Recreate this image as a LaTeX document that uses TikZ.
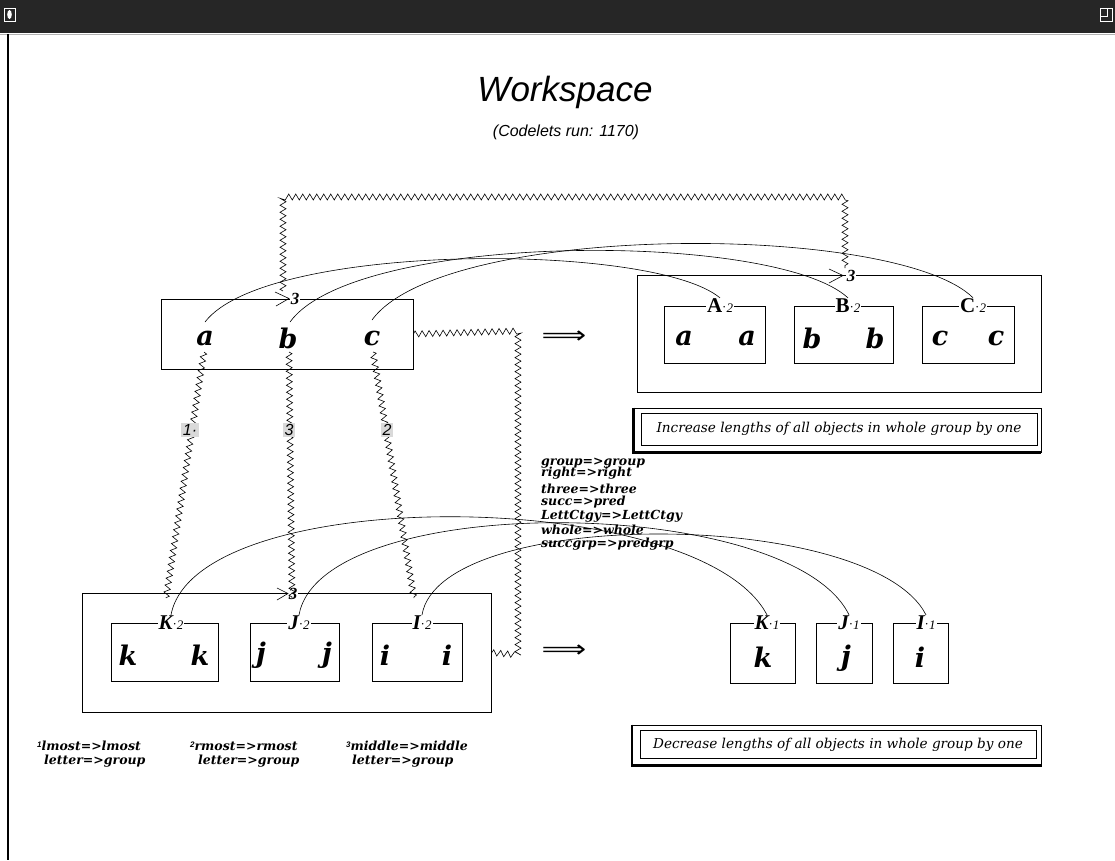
\documentclass[tikz,border=0pt]{standalone}
\usepackage{fontspec}
\usetikzlibrary{decorations.pathmorphing}
\newfontfamily\sansfam{Liberation Sans}
\newfontfamily\dvsans{DejaVu Sans}
\newfontfamily\dvserif{DejaVu Serif}
\newfontfamily\libserif{Liberation Serif}
\definecolor{titlebar}{HTML}{262626}
\definecolor{tagbg}{HTML}{D9D9D9}

\tikzset{
  box/.style={draw, line width=0.8pt, inner sep=0pt},
  lettr/.style={inner sep=0pt, font=\dvserif\bfseries\itshape\fontsize{27}{27}\selectfont},
  grp/.style={fill=white, inner sep=1pt},
  lenlab/.style={fill=white, inner sep=0.5pt, font=\libserif\bfseries\itshape\fontsize{17}{17}\selectfont},
  zz/.style={decorate, decoration={zigzag, segment length=7pt, amplitude=3pt}, line width=0.6pt},
  arcline/.style={line width=0.6pt},
  mapline/.style={anchor=west, inner sep=0pt, font=\dvserif\bfseries\itshape\fontsize{12.5}{12.5}\selectfont},
  tag/.style={fill=tagbg, inner sep=1.5pt, font=\sansfam\itshape\fontsize{16}{16}\selectfont},
  ruletext/.style={inner sep=0pt, font=\dvserif\itshape\fontsize{13.6}{13.6}\selectfont},
  tick/.style={line width=0.6pt},
  imp/.style={inner sep=0pt, font=\dvsans\fontsize{24}{24}\selectfont},
}
% group label: letter, then a centred dot and the length
\newcommand\grouplabel[3]{{\libserif\bfseries\fontsize{21}{21}\selectfont#3#1}{\libserif\fontsize{13}{13}\selectfont\raisebox{1.5pt}{\textperiodcentered}\itshape#2}}

\begin{document}
\begin{tikzpicture}[x=1pt, y=-1pt]
\useasboundingbox (0,0) rectangle (1115,860);
\fill[white] (0,0) rectangle (1115,860);

% window title bar
\fill[titlebar] (0,0) rectangle (1115,33);
\draw[white, line width=0.8pt] (4,8) rectangle (15,21);
\fill[white] (9.5,14.5) ellipse [x radius=2.3, y radius=4.5];
\draw[white, line width=0.8pt] (1100,8) rectangle (1112,21);
\draw[white, line width=0.8pt] (1100,16) -- (1107,16) -- (1107,8);
\draw[gray!60, line width=1pt] (0,34) -- (1115,34);
\draw[black, line width=1.2pt] (8,34) -- (8,860);

% heading
\node[font=\sansfam\itshape\fontsize{35}{35}\selectfont] (title) at (565,92) {Workspace};
\node[font=\sansfam\itshape\fontsize{16}{16}\selectfont] (runs) at (566,132) {(Codelets run: 1170)};

% initial string
\node[box, minimum width=252pt, minimum height=70pt] (init) at (287,334) {};
\node[lettr] (ia) at (205,338) {a};
\node[lettr] (ib) at (288,338) {b};
\node[lettr] (ic) at (372,338) {c};
\node[lenlab] (ilen) at (295,299) {3};
\draw[tick] (275,292) -- (289,298.5) -- (276,306);

% modified string
\node[box, minimum width=404pt, minimum height=117pt] (modf) at (839,333.5) {};
\node[box, minimum width=101pt, minimum height=57pt] (mA) at (714.5,334.5) {};
\node[box, minimum width=99pt, minimum height=57pt] (mB) at (843.5,334.5) {};
\node[box, minimum width=92pt, minimum height=57pt] (mC) at (968,334.5) {};
\node[lettr] at (684,338) {a};
\node[lettr] at (747,338) {a};
\node[lettr] at (812,338) {b};
\node[lettr] at (875,338) {b};
\node[lettr] at (940,338) {c};
\node[lettr] at (996,338) {c};
\node[grp] (lA) at (720,306) {\grouplabel{A}{2}{}};
\node[grp] (lB) at (848,306) {\grouplabel{B}{2}{}};
\node[grp] (lC) at (973,306) {\grouplabel{C}{2}{}};
\node[lenlab] (mlen) at (851,276) {3};
\draw[tick] (829,269) -- (843,275.5) -- (829,283);

% target string
\node[box, minimum width=409pt, minimum height=119pt] (targ) at (286.5,652.5) {};
\node[box, minimum width=107pt, minimum height=58pt] (tK) at (164.5,652) {};
\node[box, minimum width=89pt, minimum height=58pt] (tJ) at (294.5,652) {};
\node[box, minimum width=90pt, minimum height=58pt] (tI) at (417,652) {};
\node[lettr] at (128,655) {k};
\node[lettr] at (200,655) {k};
\node[lettr] at (261,655) {j};
\node[lettr] at (327,655) {j};
\node[lettr] at (385,655) {i};
\node[lettr] at (447,655) {i};
\node[grp] (lK) at (171,623) {\grouplabel{K}{2}{\itshape}};
\node[grp] (lJ) at (299,623) {\grouplabel{J}{2}{\itshape}};
\node[grp] (lI) at (422,623) {\grouplabel{I}{2}{\itshape}};
\node[lenlab] (tlen) at (293,594) {3};
\draw[tick] (277,588) -- (288,593.5) -- (277,600);

% answer string
\node[box, minimum width=65pt, minimum height=60pt] (aK) at (762.5,653) {};
\node[box, minimum width=56pt, minimum height=60pt] (aJ) at (844,653) {};
\node[box, minimum width=55pt, minimum height=60pt] (aI) at (920.5,653) {};
\node[lettr] at (763,657) {k};
\node[lettr] at (846,658) {j};
\node[lettr] at (920,657) {i};
\node[grp] (lK1) at (767,623) {\grouplabel{K}{1}{\itshape}};
\node[grp] (lJ1) at (849,623) {\grouplabel{J}{1}{\itshape}};
\node[grp] (lI1) at (926,623) {\grouplabel{I}{1}{\itshape}};

% implication arrows
\node[imp] (imp1) at (564,337) {\scalebox{1.3}[1]{⟹}};
\node[imp] (imp2) at (564,651) {\scalebox{1.3}[1]{⟹}};

% bridge from initial group to modified group
\coordinate (zl) at (283,197);
\coordinate (zr) at (845,197);
\draw[zz] (283,291) -- (zl) -- (zr) -- (845,268);

% bridge from initial group to target group
\coordinate (zt) at (518,331);
\coordinate (zb) at (518,655);
\draw[zz] (init.east) -- (zt) -- (zb) -- (targ.east);

% letter correspondences
\draw[zz] (204,352) -- (166,598);
\draw[zz] (289,352) -- (292,598);
\draw[zz] (373,352) -- (414,598);
\node[tag] (c1) at (190,430) {1\textperiodcentered};
\node[tag] (c3) at (289,430) {3};
\node[tag] (c2) at (387,430) {2};

% changes: initial -> modified
\draw[arcline] (205,322) .. controls (266,242) and (653,242) .. (lA.north);
\draw[arcline] (290,322) .. controls (356,231) and (776,231) .. (lB.north);
\draw[arcline] (372,320) .. controls (443,222) and (896,222) .. (lC.north);

% changes: target -> answer
\draw[arcline] (lK.north) .. controls (196,482) and (700,486) .. (lK1.north);
\draw[arcline] (lJ.north) .. controls (322,490) and (790,494) .. (lJ1.north);
\draw[arcline] (lI.north) .. controls (440,506) and (872,508) .. (lI1.north);

% concept mapping
\node[mapline] (m1) at (541,463) {group=>group};
\node[mapline] (m2) at (541,473) {right=>right};
\node[mapline] (m3) at (541,489) {three=>three};
\node[mapline] (m4) at (541,502) {succ=>pred};
\node[mapline] (m5) at (541,516) {LettCtgy=>LettCtgy};
\node[mapline] (m6) at (541,530) {whole=>whole};
\node[mapline] (m7) at (541,544) {succgrp=>predgrp};

% rules
\node[box, minimum width=407pt, minimum height=44pt] (r1out) at (837.5,430) {};
\node[box, line width=0.6pt, minimum width=396pt, minimum height=32pt] (r1in) at (839,429.5) {};
\draw[line width=2.5pt] (r1out.north west) -- (r1out.south west) -- (r1out.south east);
\node[ruletext] (r1) at (839,429) {Increase lengths of all objects in whole group by one};

\node[box, minimum width=409pt, minimum height=40pt] (r2out) at (837,745) {};
\node[box, line width=0.6pt, minimum width=396pt, minimum height=28pt] (r2in) at (838.5,744.5) {};
\draw[line width=2.5pt] (r2out.north west) -- (r2out.south west) -- (r2out.south east);
\node[ruletext] (r2) at (838,745) {Decrease lengths of all objects in whole group by one};

% footnotes
\node[mapline] (f1a) at (37,746) {\raisebox{3pt}{\sansfam\fontsize{8}{8}\selectfont 1}lmost=>lmost};
\node[mapline] (f1b) at (44,761) {letter=>group};
\node[mapline] (f2a) at (190,746) {\raisebox{3pt}{\sansfam\fontsize{8}{8}\selectfont 2}rmost=>rmost};
\node[mapline] (f2b) at (198,761) {letter=>group};
\node[mapline] (f3a) at (346,746) {\raisebox{3pt}{\sansfam\fontsize{8}{8}\selectfont 3}middle=>middle};
\node[mapline] (f3b) at (352,761) {letter=>group};
\end{tikzpicture}
\end{document}
